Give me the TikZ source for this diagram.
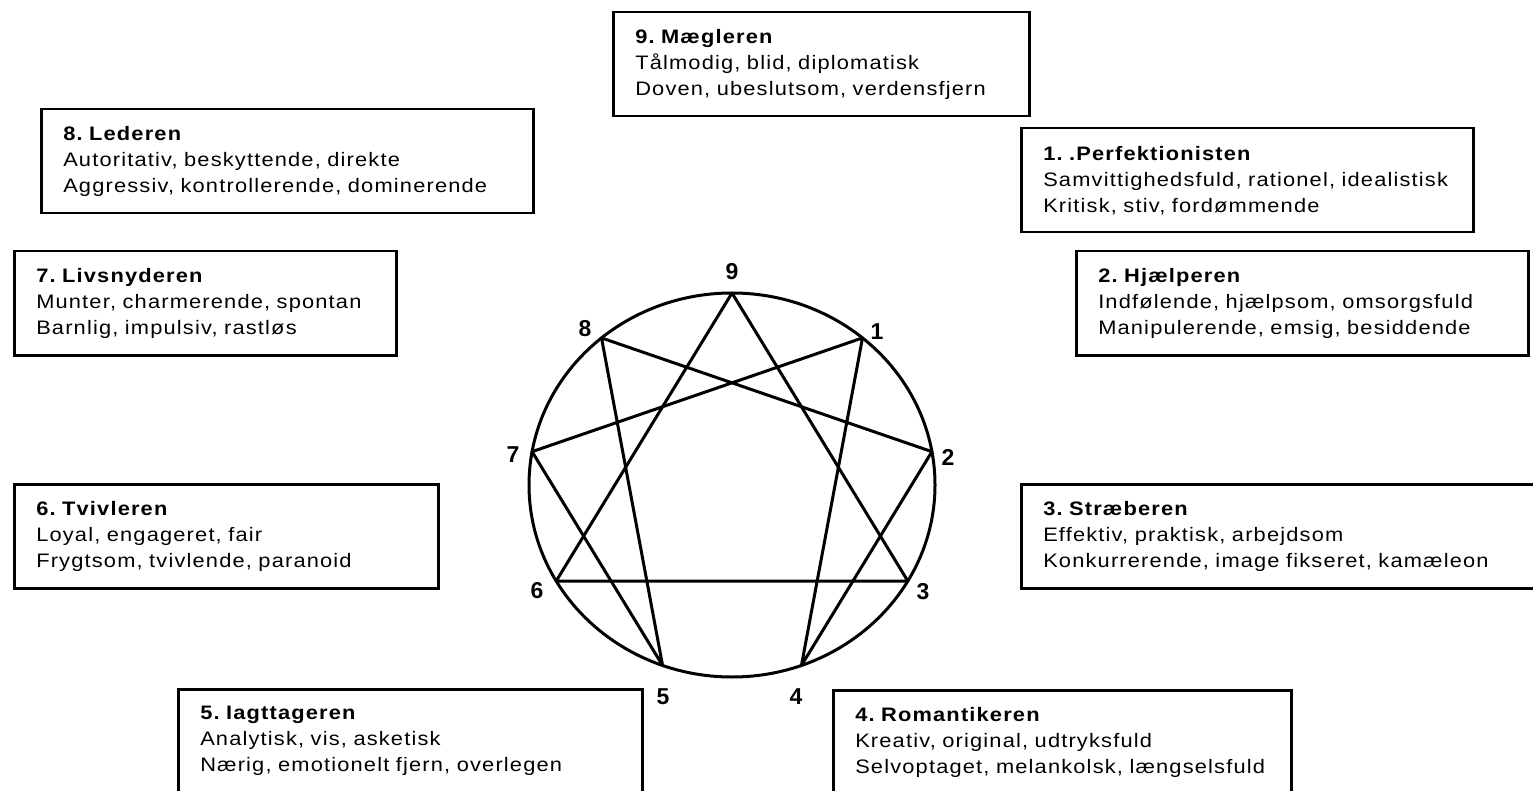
\documentclass[tikz,border=0pt]{standalone}
\usepackage{fontspec}
\setmainfont{Liberation Sans}
\newfontfamily\boxfont[FakeStretch=1.12, LetterSpace=6]{Liberation Sans}
\usepackage{tikz}
\usetikzlibrary{positioning}

\begin{document}
\frenchspacing
\begin{tikzpicture}[x=1pt, y=-1pt,
    typebox/.style={draw, line width=2.5pt, anchor=north west, align=left,
        inner xsep=22pt, inner ysep=0pt, minimum height=104pt,
        font=\boxfont\fontsize{19.5}{26}\selectfont},
    pointlabel/.style={font=\fontsize{23}{23}\selectfont\bfseries, inner sep=0pt}]
       \clip (0,0) rectangle (1533,791);
       \fill[white] (0,0) rectangle (1533,791);

       \draw[line width=3pt] (732,485) ellipse [x radius=203, y radius=192];
       \foreach \k in {1,...,9}
           \coordinate (e\k) at ({732+203*sin(40*\k)}, {485-192*cos(40*\k)});

       \draw[line width=3pt, line join=round] (e9) -- (e3) -- (e6) -- cycle;
       \draw[line width=3pt, line join=round] (e1) -- (e4) -- (e2) -- (e8) -- (e5) -- (e7) -- cycle;

       \node[pointlabel] (l9) at (732,272) {9};
       \node[pointlabel] (l1) at (877,332) {1};
       \node[pointlabel] (l2) at (948,457) {2};
       \node[pointlabel] (l3) at (923,592) {3};
       \node[pointlabel] (l4) at (796,697) {4};
       \node[pointlabel] (l5) at (663,697) {5};
       \node[pointlabel] (l6) at (537,591) {6};
       \node[pointlabel] (l7) at (513,455) {7};
       \node[pointlabel] (l8) at (585,329) {8};

       \node[typebox, text width=372pt] (t9) at (612,11)
           {\textbf{9. Mægleren}\\Tålmodig, blid, diplomatisk\\Doven, ubeslutsom, verdensfjern};
       \node[typebox, text width=448pt] (t8) at (40,108)
           {\textbf{8. Lederen}\\Autoritativ, beskyttende, direkte\\Aggressiv, kontrollerende, dominerende};
       \node[typebox, text width=408pt] (t1) at (1020,127)
           {\textbf{1. .Perfektionisten}\\Samvittighedsfuld, rationel, idealistisk\\Kritisk, stiv, fordømmende};
       \node[typebox, text width=408pt] (t2) at (1075,250)
           {\textbf{2. Hjælperen}\\Indfølende, hjælpsom, omsorgsfuld\\Manipulerende, emsig, besiddende};
       \node[typebox, text width=338pt] (t7) at (13,250)
           {\textbf{7. Livsnyderen}\\Munter, charmerende, spontan\\Barnlig, impulsiv, rastløs};
       \node[typebox, text width=380pt] (t6) at (13,483)
           {\textbf{6. Tvivleren}\\Loyal, engageret, fair\\Frygtsom, tvivlende, paranoid};
       \node[typebox, text width=481pt] (t3) at (1020,483)
           {\textbf{3. Stræberen}\\Effektiv, praktisk, arbejdsom\\Konkurrerende, image fikseret, kamæleon};
       \node[typebox, text width=420pt] (t5) at (177,688)
           {\textbf{5. Iagttageren}\\Analytisk, vis, asketisk\\Nærig, emotionelt fjern, overlegen};
       \node[typebox, text width=414pt] (t4) at (832,689)
           {\textbf{4. Romantikeren}\\Kreativ, original, udtryksfuld\\Selvoptaget, melankolsk, længselsfuld};
    \end{tikzpicture}
\end{document}
